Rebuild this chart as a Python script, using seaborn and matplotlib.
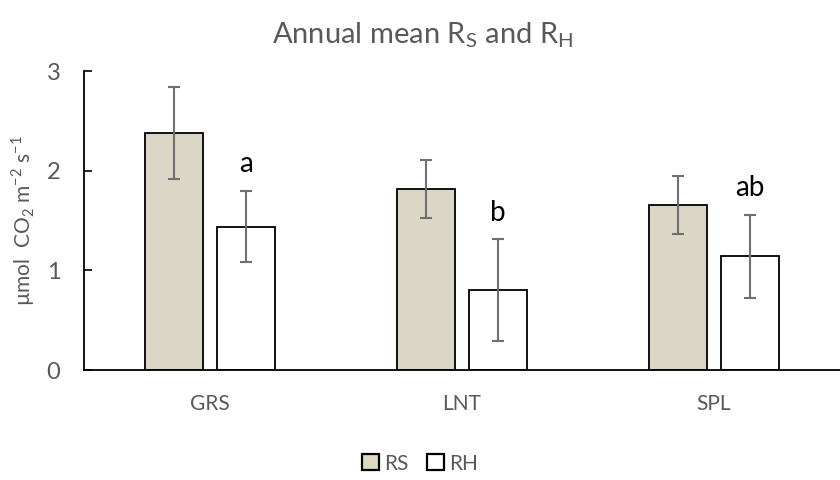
import matplotlib
matplotlib.use("Agg")
import matplotlib.pyplot as plt
import seaborn as sns
import pandas as pd

# values
sites = ["GRS", "LNT", "SPL"]
rs_mean = [2.38, 1.82, 1.66]
rs_err = [0.46, 0.29, 0.29]
rh_mean = [1.44, 0.80, 1.14]
rh_err = [0.36, 0.51, 0.42]
rh_letters = ["a", "b", "ab"]

df = pd.DataFrame({
    "site": sites * 2,
    "flux": ["RS"] * 3 + ["RH"] * 3,
    "value": rs_mean + rh_mean,
})

sns.set_style("white")
plt.rcParams["font.family"] = ["Lato", "DejaVu Sans"]
plt.rcParams["mathtext.fontset"] = "custom"
plt.rcParams["mathtext.rm"] = "Lato"
grey = "#595959"

fig = plt.figure(figsize=(8.4, 4.8), dpi=100)
ax = fig.add_axes([0.1, 0.229, 0.9, 0.623])

sns.barplot(data=df, x="site", y="value", hue="flux", ax=ax,
            palette={"RS": "#ddd9c4", "RH": "#ffffff"},
            edgecolor="black", linewidth=1.3, width=0.57, gap=0.2,
            errorbar=None, legend=False)

# error bars on top of each bar
for cont, errs in zip(ax.containers, [rs_err, rh_err]):
    xs = [p.get_x() + p.get_width() / 2 for p in cont.patches]
    ys = [p.get_height() for p in cont.patches]
    ax.errorbar(xs, ys, yerr=errs, fmt="none", ecolor="#707070",
                elinewidth=1.5, capsize=4.5, capthick=1.5, zorder=5)

# significance letters above RH bars
for p, e, lab in zip(ax.containers[1].patches, rh_err, rh_letters):
    ax.text(p.get_x() + p.get_width() / 2, p.get_height() + e + 0.14, lab,
            ha="center", va="bottom", fontsize=20, color="black")

ax.set_xlim(-0.5, 2.5)
ax.set_ylim(0, 3)
ax.set_yticks([0, 1, 2, 3])
ax.set_xlabel("")
ax.set_ylabel(r"µmol  CO$_2$ m$^{-2}$ s$^{-1}$", fontsize=15, color=grey, labelpad=7)
ax.tick_params(axis="y", direction="in", length=6, width=1.2, colors="black",
               labelcolor=grey, labelsize=17, pad=17, left=True)
ax.tick_params(axis="x", length=0, labelcolor=grey, labelsize=15, pad=17)
sns.despine(ax=ax)
ax.spines["left"].set_color("black")
ax.spines["bottom"].set_color("black")
ax.spines["left"].set_linewidth(1.3)
ax.spines["bottom"].set_linewidth(1.3)

fig.suptitle(r"Annual mean R$_\mathregular{S}$ and R$_\mathregular{H}$",
             x=0.503, y=0.958, fontsize=21, color=grey)

handles = [plt.Rectangle((0, 0), 1, 1, facecolor=c, edgecolor="black", linewidth=1.6)
           for c in ["#ddd9c4", "#ffffff"]]
fig.legend(handles, ["RS", "RH"], loc="center", bbox_to_anchor=(0.5, 0.034),
           ncol=2, frameon=False, fontsize=15, labelcolor=grey,
           handlelength=0.8, handleheight=0.8, handletextpad=0.25, columnspacing=0.9)

fig.savefig("out.png", dpi=100)
